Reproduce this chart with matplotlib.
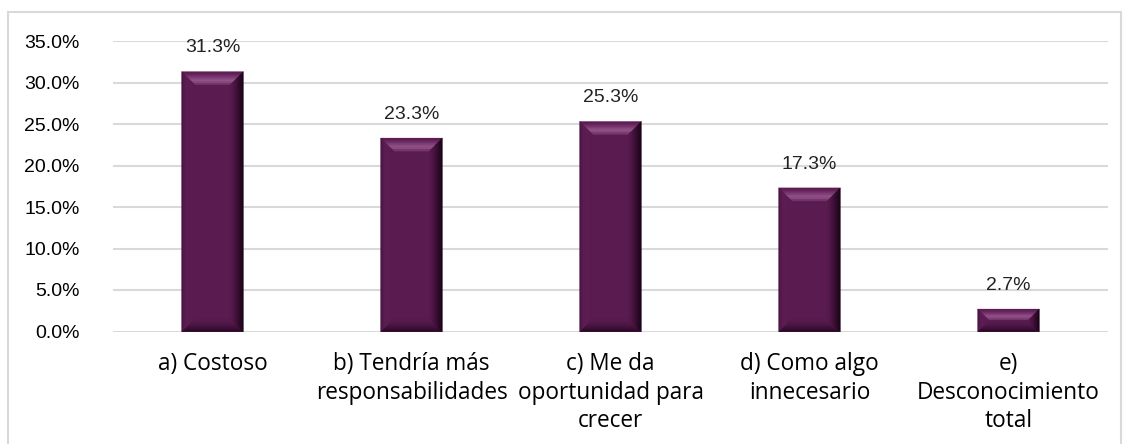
import matplotlib
matplotlib.use("Agg")
import matplotlib.pyplot as plt
from matplotlib.patches import Polygon, Rectangle
import numpy as np

categories = ["a) Costoso", "b) Tendría más\nresponsabilidades", "c) Me da\noportunidad para\ncrecer",
              "d) Como algo\ninnecesario", "e)\nDesconocimiento\ntotal"]
values = [0.313, 0.233, 0.253, 0.173, 0.027]
yticks = [0.0, 0.05, 0.10, 0.15, 0.20, 0.25, 0.30, 0.35]

W, H, DPI = 1124, 444, 100
fig = plt.figure(figsize=(W / DPI, H / DPI), dpi=DPI)
fig.patch.set_facecolor("white")

# chart border
fig.add_artist(Rectangle((8 / W, -0.05), (1121 - 8) / W, 1.05 - 12 / H, transform=fig.transFigure,
                         fill=False, edgecolor="#d9d9d9", linewidth=1.5))

ax = fig.add_axes([113 / W, (H - 331.5) / H, (1108 - 113) / W, (331.5 - 41) / H])
x = np.arange(len(categories))
ax.set_xlim(-0.5, len(categories) - 0.5)
ax.set_ylim(0, 0.35)
ax.set_yticks(yticks)
ax.set_yticklabels([f"{v*100:.1f}%" for v in yticks], family="Liberation Sans", fontsize=14)
ax.tick_params(axis="y", length=0, pad=24)
ax.tick_params(axis="x", length=0, pad=15)
ax.set_xticks(x)
ax.set_xticklabels(categories, family="Open Sans", fontsize=16.3, linespacing=1.25, va="top")
for s in ax.spines.values():
    s.set_visible(False)
ax.grid(axis="y", color="#d9d9d9", linewidth=1.5)
ax.set_axisbelow(True)

bw = 0.31
main = "#5a1b50"
bars = ax.bar(x, values, width=bw, color=main, edgecolor="none", zorder=2)

fig.canvas.draw()
to_data = ax.transData.inverted()
bev = 13  # px
profiles = {
    "top": ["#5c1d52", "#63235a", "#6e2d65", "#7c3b73", "#8a4981", "#935389", "#8a4a80", "#74366b"],
    "bottom": ["#2c0928", "#340c2f", "#3d1036", "#45133e", "#4c1645", "#52184a", "#561a4d", "#581a4e"],
    "left": ["#4c1644", "#54194b", "#5a1c51", "#5c1d53", "#5c1d53", "#5b1c51", "#5a1b50", "#5a1b50"],
    "right": ["#1c0518", "#24071f", "#2d0a28", "#360d30", "#3f1138", "#48143f", "#501746", "#56194c"],
}
for b in bars:
    x0, y0 = b.get_x(), b.get_y()
    x1, y1 = x0 + b.get_width(), y0 + b.get_height()
    (px0, py0) = ax.transData.transform((x0, y0))
    (px1, py1) = ax.transData.transform((x1, y1))
    bb = min(bev, (py1 - py0) / 2.0, (px1 - px0) / 2.0)

    def rect(t):
        return [to_data.transform(p) for p in
                [(px0 + t, py0 + t), (px1 - t, py0 + t), (px1 - t, py1 - t), (px0 + t, py1 - t)]]

    for side, cols in profiles.items():
        n = len(cols)
        for i, col in enumerate(cols):
            o = rect(bb * i / n)
            inn = rect(bb * (i + 1) / n)
            if side == "bottom":
                pts = [o[0], o[1], inn[1], inn[0]]
            elif side == "right":
                pts = [o[1], o[2], inn[2], inn[1]]
            elif side == "top":
                pts = [o[3], o[2], inn[2], inn[3]]
            else:
                pts = [o[0], o[3], inn[3], inn[0]]
            ax.add_patch(Polygon(pts, closed=True, facecolor=col, edgecolor=col,
                                 linewidth=0.3, zorder=3))
    ax.annotate(f"{b.get_height()*100:.1f}%", (b.get_x() + b.get_width() / 2, y1),
                xytext=(0, 11), textcoords="offset points", ha="center", va="bottom",
                family="Liberation Sans", fontsize=14, color="#222222")

fig.savefig("out.png", dpi=DPI)
